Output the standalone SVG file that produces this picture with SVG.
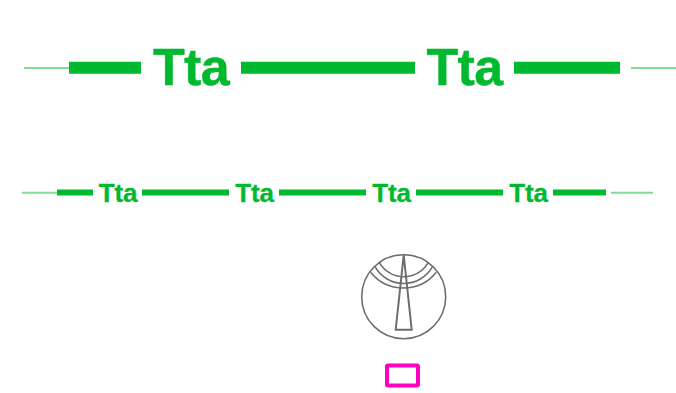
<svg xmlns="http://www.w3.org/2000/svg" width="676" height="393" viewBox="0 0 676 393">
<style>
.thick{stroke:#00b92f;stroke-width:12;fill:none}
.mid{stroke:#00b92f;stroke-width:6;fill:none}
.thin{stroke:#00b92f;stroke-width:2;stroke-opacity:.5;fill:none}
.big{font:bold 52px "Liberation Sans",Arial,sans-serif;fill:#00b92f;stroke:#00b92f;stroke-width:.4px;letter-spacing:-.7px;text-anchor:middle}
.small{font:bold 26px "Liberation Sans",Arial,sans-serif;fill:#00b92f;stroke:#00b92f;stroke-width:.3px;letter-spacing:-.2px;text-anchor:middle}
.sym{stroke:#6e6e6e;fill:none;stroke-width:1.6}
.tri{stroke-width:2}
</style>
<rect width="676" height="393" fill="#fff"/>
<g id="connectors">
<path class="thin" d="M24 68H69M631 68H676"/>
<path class="thick" d="M69 67.7H141M241 67.7H415M514 67.7H620"/>
<path class="thin" d="M22 192.8H57M611 192.8H653"/>
<path class="mid" d="M57 192.5H93M142 192.5H229M279 192.5H366M416 192.5H503M553 192.5H606"/>
</g>
<g id="label-top-1"><text class="big" x="191" y="85">Tta</text></g>
<g id="label-top-2"><text class="big" x="464.500" y="85">Tta</text></g>
<g id="label-mid-1"><text class="small" x="118" y="201.500">Tta</text></g>
<g id="label-mid-2"><text class="small" x="254.500" y="201.500">Tta</text></g>
<g id="label-mid-3"><text class="small" x="391.500" y="201.500">Tta</text></g>
<g id="label-mid-4"><text class="small" x="528.500" y="201.500">Tta</text></g>
<g id="symbol">
<circle class="sym" cx="403.700" cy="296.700" r="42"/>
<path class="sym tri" d="M403.700 255L395.700 329.700H411.700Z"/>
<path class="sym" d="M379.300 262.300A28 28 0 0 0 428.300 262.300M375 266.700A33 33 0 0 0 432.500 266.700M370.700 272.300A42 42 0 0 0 436.300 272.300"/>
</g>
<g id="marker"><rect x="387" y="365.500" width="31" height="20" rx="1" fill="none" stroke="#ff00c0" stroke-width="4"/></g>
</svg>
